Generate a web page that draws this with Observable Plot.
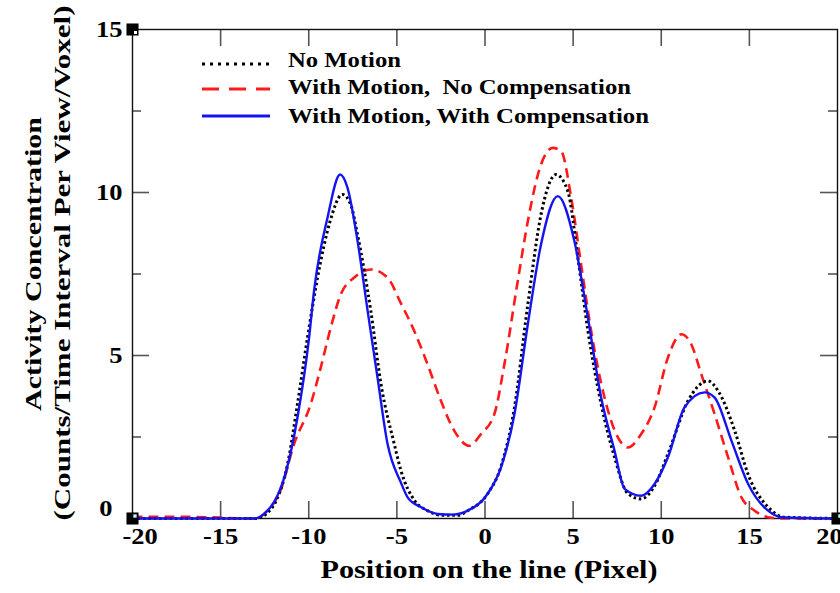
<!DOCTYPE html>
<html><head><meta charset="utf-8">
<script src="https://cdn.jsdelivr.net/npm/d3@7"></script>
<script src="https://cdn.jsdelivr.net/npm/@observablehq/plot@0.6"></script>
<style>
html,body{margin:0;padding:0;background:#fff;}
#chart{position:relative;width:840px;height:593px;overflow:hidden;background:#fff;}
</style></head><body>
<div id="chart"></div>
<script>
// ---------- data ----------
const seriesNames = ["No Motion", "With Motion,  No Compensation", "With Motion, With Compensation"];

const xNoMotion = [-20, -13.0, -12.4, -11.8, -11.2, -10.64, -10.07, -9.5, -8.8, -8.09, -7.6, -7.23, -6.48, -5.9, -5.15, -4.77, -4.0, -3.26, -2.5, -1.5, -0.98, 0.15, 0.91, 1.67, 2.43, 3.18, 4.03, 4.7, 5.27, 5.84, 6.59, 7.35, 8.11, 8.86, 9.62, 10.38, 11.52, 12.65, 13.22, 14.17, 14.93, 16.06, 17.0, 20];
const yNoMotion = [0, 0, 0.15, 0.6, 1.67, 3.51, 5.55, 7.39, 9.1, 9.94, 9.6, 8.7, 6.37, 4.12, 2.29, 1.47, 0.55, 0.24, 0.1, 0.1, 0.24, 0.76, 1.6, 3.4, 6.57, 9.33, 10.55, 10.04, 8.0, 5.76, 3.51, 1.88, 0.76, 0.6, 1.0, 1.98, 3.61, 4.22, 3.92, 2.69, 1.35, 0.35, 0.04, 0];

const xNoComp = [-20, -17, -13.0, -12.35, -11.6, -10.83, -9.89, -9.32, -8.75, -8.18, -7.42, -6.48, -5.53, -4.77, -4.02, -3.26, -2.5, -1.74, -0.89, -0.23, 0.53, 1.1, 1.86, 2.43, 3.18, 3.84, 4.32, 4.89, 5.45, 6.02, 6.78, 7.54, 8.11, 8.86, 9.62, 10.38, 11.14, 11.7, 12.27, 13.03, 13.79, 14.55, 15.3, 16.06, 17, 20];
const yNoComp = [0.05, 0.05, 0, 0.24, 0.86, 2.29, 3.51, 4.63, 5.86, 6.88, 7.39, 7.64, 7.39, 6.6, 5.76, 4.73, 3.61, 2.69, 2.23, 2.59, 3.2, 4.73, 7.29, 9.12, 10.86, 11.37, 11.27, 9.84, 7.8, 5.76, 3.71, 2.49, 2.18, 2.59, 3.41, 4.94, 5.65, 5.35, 4.43, 3.2, 1.88, 0.65, 0.24, 0.04, 0, 0];

const xWithComp = [-20, -13.1, -12.44, -11.97, -11.3, -10.64, -9.98, -9.7, -8.94, -8.22, -7.8, -7.23, -6.66, -6.1, -5.53, -4.77, -4.39, -3.64, -2.69, -1.8, -0.98, 0.15, 0.91, 1.67, 2.43, 3.18, 4.13, 5.07, 5.84, 6.59, 7.35, 7.92, 8.86, 9.62, 10.38, 11.32, 12.46, 13.03, 13.98, 14.93, 16.06, 16.82, 20];
const yWithComp = [0, 0, 0.19, 0.5, 1.42, 3.1, 5.55, 6.98, 9.22, 10.55, 10.14, 8.51, 6.37, 4.33, 2.29, 1.1, 0.65, 0.35, 0.14, 0.12, 0.24, 0.76, 1.57, 3.2, 5.96, 8.41, 9.89, 8.51, 6.16, 3.71, 2.08, 0.91, 0.7, 1.06, 1.88, 3.41, 3.87, 3.71, 2.39, 1.06, 0.24, 0.04, 0];

const xDomain = [-20, 20];
const yDomain = [0, 15];
const xTicks = [-20, -15, -10, -5, 0, 5, 10, 15, 20];
const yTicks = [0, 5, 10, 15];
const yMinorTicks = [2.5, 7.5, 12.5];
const xLabel = "Position on the line (Pixel)";
const yLabel1 = "Activity Concentration";
const yLabel2 = "(Counts/Time Interval Per View/Voxel)";

// ---------- build ----------
const toRows = (xs, ys) => xs.map((x, i) => ({x, y: ys[i]}));
const noMotion = toRows(xNoMotion, yNoMotion);
const noComp = toRows(xNoComp, yNoComp);
const withComp = toRows(xWithComp, yWithComp);
const cornerTop = [{x: xDomain[0], y: yDomain[1]}];
const cornerBottom = [{x: xDomain[0], y: yDomain[0]}, {x: xDomain[1], y: yDomain[0]}];

const W = 840, H = 593, mL = 132, mR = 3, mT = 29, mB = 75;
const innerW = W - mL - mR, innerH = H - mT - mB;
const FONT = "'Liberation Serif','Times New Roman',serif";
const BLACK = "#000", RED = "#ff1a1a", BLUE = "#1414f0", TICK = "#555";
const innerX = xTicks.slice(1, -1);
const innerYMajor = yTicks.slice(1, -1);
const TF = d => String(d);
const axisFont = {fontSize: 23, fontWeight: "bold", fill: "#000"};

const chart = Plot.plot({
  width: W, height: H,
  marginLeft: mL, marginRight: mR, marginTop: mT, marginBottom: mB,
  style: {fontFamily: FONT, fontWeight: "bold", fontSize: "23px", color: "#000", background: "#fff", overflow: "visible"},
  x: {domain: xDomain},
  y: {domain: yDomain},
  marks: [
    Plot.ruleX(innerX, {x: d => d, insetTop: innerH - 17, stroke: TICK, strokeWidth: 1.6}),
    Plot.ruleX(innerX, {x: d => d, insetBottom: innerH - 17, stroke: TICK, strokeWidth: 1.6}),
    Plot.ruleY(innerYMajor, {y: d => d, insetRight: innerW - 17, stroke: TICK, strokeWidth: 1.6}),
    Plot.ruleY(yMinorTicks, {y: d => d, insetRight: innerW - 9, stroke: TICK, strokeWidth: 1.6}),
    Plot.ruleY(innerYMajor, {y: d => d, insetLeft: innerW - 17, stroke: TICK, strokeWidth: 1.6}),
    Plot.ruleY(yMinorTicks, {y: d => d, insetLeft: innerW - 9, stroke: TICK, strokeWidth: 1.6}),
    Plot.frame({stroke: "#111", strokeWidth: 1.4}),
    Plot.axisX({ticks: xTicks.slice(1, -1), tickSize: 0, tickPadding: 9, tickFormat: TF, label: null, ...axisFont}),
    Plot.axisX({ticks: xTicks.slice(0, 1), tickSize: 0, tickPadding: 9, dx: 7.5, tickFormat: TF, label: null, ...axisFont}),
    Plot.axisX({ticks: xTicks.slice(-1), tickSize: 0, tickPadding: 9, dx: -8, tickFormat: TF, label: null, ...axisFont}),
    Plot.axisY({ticks: yTicks.slice(1), tickSize: 0, tickPadding: 10, tickFormat: TF, label: null, ...axisFont}),
    Plot.axisY({ticks: yTicks.slice(0, 1), tickSize: 0, tickPadding: 10, dx: -10, dy: -10, tickFormat: TF, label: null, ...axisFont}),
    Plot.line(noComp, {x: "x", y: "y", curve: "monotone-x", stroke: RED, strokeWidth: 2.6, strokeDasharray: "10,6", strokeLinecap: "butt"}),
    Plot.line(noMotion, {x: "x", y: "y", curve: "monotone-x", stroke: BLACK, strokeWidth: 3, strokeDasharray: "2.5,2.8", strokeLinecap: "butt"}),
    Plot.line(withComp, {x: "x", y: "y", curve: "monotone-x", stroke: BLUE, strokeWidth: 2.4}),
    Plot.dot(cornerTop, {x: "x", y: "y", symbol: "square", r: 6.8, fill: "#000"}),
    Plot.dot(cornerTop, {x: "x", y: "y", symbol: "square", r: 1.7, dx: 3, dy: 3, fill: "#fff"}),
    Plot.dot(cornerBottom, {x: "x", y: "y", symbol: "square", r: 6.8, fill: "#000"}),
    Plot.dot(cornerBottom, {x: "x", y: "y", symbol: "square", r: 1.9, dx: 2.5, dy: -2.5, fill: "#bff"}),
    Plot.text([xLabel], {text: d => d, frameAnchor: "bottom", dx: 4, dy: 59, fontSize: 25, fontWeight: "bold", fill: "#000"}),
    Plot.text([yLabel1], {text: d => d, frameAnchor: "left", textAnchor: "middle", rotate: -90, dx: -99, dy: -10, fontSize: 24, fontWeight: "bold", fill: "#000"}),
    Plot.text([yLabel2], {text: d => d, frameAnchor: "left", textAnchor: "middle", rotate: -90, dx: -70, dy: -11, fontSize: 24, fontWeight: "bold", fill: "#000"})
  ]
});
document.getElementById("chart").appendChild(chart);

// stretch titles to the lengths seen in the reference
const lengths = new Map([[xLabel, 337], [yLabel1, 294], [yLabel2, 515]]);
d3.select(chart).selectAll("text").each(function() {
  const t = this.textContent;
  if (lengths.has(t)) d3.select(this).attr("textLength", lengths.get(t)).attr("lengthAdjust", "spacingAndGlyphs");
});
// tick labels in the reference are slightly wide
d3.select(chart).selectAll('g[aria-label="x-axis tick label"] text, g[aria-label="y-axis tick label"] text').each(function() {
  const w = this.getComputedTextLength();
  if (w > 0) d3.select(this).attr("textLength", w * 1.15).attr("lengthAdjust", "spacingAndGlyphs");
});

// ---------- legend (inside the plot area, top-left) ----------
const legendStyles = [
  {stroke: BLACK, dash: "3,5", width: 3},
  {stroke: RED, dash: "17,10", width: 3},
  {stroke: BLUE, dash: null, width: 3}
];
const legendLen = [113, 343, 361];
const leg = d3.select("#chart").append("svg")
  .attr("width", W).attr("height", H)
  .style("position", "absolute").style("left", "0px").style("top", "0px");
const rowLineY = [64, 89, 116], rowTextY = [66.5, 94, 123];
seriesNames.forEach((name, i) => {
  const s = legendStyles[i];
  leg.append("line").attr("x1", 202).attr("x2", 270).attr("y1", rowLineY[i]).attr("y2", rowLineY[i])
    .attr("stroke", s.stroke).attr("stroke-width", s.width).attr("stroke-dasharray", s.dash);
  leg.append("text").attr("x", 288).attr("y", rowTextY[i])
    .attr("font-family", FONT).attr("font-weight", "bold").attr("font-size", 22)
    .attr("fill", "#000").style("white-space", "pre")
    .attr("textLength", legendLen[i]).attr("lengthAdjust", "spacingAndGlyphs")
    .text(name);
});
</script>
</body></html>
